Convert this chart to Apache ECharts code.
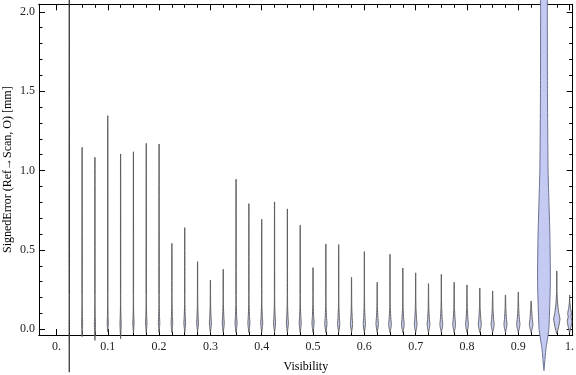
<!DOCTYPE html>
<html>
<head>
<meta charset="utf-8">
<script src="https://cdn.jsdelivr.net/npm/echarts@6/dist/echarts.min.js"></script>
<style>
  html, body { margin: 0; padding: 0; background: #fff; }
  #chart { width: 576px; height: 375px; }
</style>
</head>
<body>
<div id="chart"></div>
<script>
// violin plot: SignedError vs Visibility (one violin per 0.025 step)
const visibility = [
  0.025, 0.05, 0.075, 0.1, 0.125, 0.15, 0.175, 0.2, 0.225, 0.25,
  0.275, 0.3, 0.325, 0.35, 0.375, 0.4, 0.425, 0.45, 0.475, 0.5,
  0.525, 0.55, 0.575, 0.6, 0.625, 0.65, 0.675, 0.7, 0.725, 0.75,
  0.775, 0.8, 0.825, 0.85, 0.875, 0.9, 0.925, 0.95, 0.975, 1.0,
];
// max / min of each distribution (mm)
const errMax = [
  2.35, 1.146, 1.083, 1.345, 1.104, 1.118, 1.171, 1.167, 0.541, 0.64,
  0.426, 0.31, 0.378, 0.945, 0.791, 0.693, 0.802, 0.758, 0.655, 0.388,
  0.537, 0.533, 0.327, 0.489, 0.296, 0.472, 0.386, 0.355, 0.287, 0.346,
  0.296, 0.279, 0.26, 0.241, 0.216, 0.235, 0.178, 2.35, 0.367, 0.216,
];
const errMin = [
  -0.27, -0.046, -0.07, -0.015, -0.06, -0.023, -0.02, -0.02, -0.02, -0.02,
  -0.015, -0.02, -0.02, -0.02, -0.02, -0.02, -0.02, -0.02, -0.02, -0.02,
  -0.02, -0.02, -0.02, -0.02, -0.02, -0.02, -0.02, -0.02, -0.02, -0.02,
  -0.02, -0.02, -0.02, -0.02, -0.02, -0.02, -0.02, -0.26, -0.03, -0.02,
];
// mode of each distribution and its density (half width, in visibility units)
const errMode = [
  0.04, 0.04, 0.04, 0.04, 0.04, 0.04, 0.04, 0.04, 0.04, 0.04,
  0.04, 0.04, 0.04, 0.04, 0.04, 0.04, 0.04, 0.04, 0.04, 0.04,
  0.035, 0.035, 0.035, 0.035, 0.035, 0.03, 0.03, 0.03, 0.03, 0.03,
  0.03, 0.03, 0.03, 0.03, 0.03, 0.03, 0.03, 0.3, 0.065, 0.05,
];
const modeDensity = [
  0.0005, 0.0011, 0.0011, 0.0011, 0.0012, 0.0012, 0.0014, 0.0014, 0.0016, 0.0017,
  0.0018, 0.002, 0.002, 0.002, 0.002, 0.002, 0.002, 0.002, 0.002, 0.0021,
  0.0022, 0.0022, 0.0022, 0.0022, 0.0024, 0.0027, 0.0027, 0.0027, 0.0027, 0.0028,
  0.0028, 0.0028, 0.003, 0.003, 0.003, 0.0032, 0.0035, 0.0, 0.0062, 0.0045,
];
// the two irregular distributions, [error, half width]
const wideProfile = [
  [-0.26, 0], [-0.12, 0.004], [0.0, 0.0095], [0.3, 0.0125], [0.6, 0.0115],
  [1.0, 0.008], [1.5, 0.0068], [2.0, 0.0065], [2.35, 0.006],
];
const lastProfile = [
  [-0.02, 0], [0.02, 0.003], [0.05, 0.0045], [0.08, 0.0028], [0.1, 0.0038],
  [0.13, 0.002], [0.17, 0.0005], [0.216, 0],
];

const xTicksMajor = [0, 0.1, 0.2, 0.3, 0.4, 0.5, 0.6, 0.7, 0.8, 0.9, 1.0];
const xTicksMinor = [
  0.025, 0.05, 0.075, 0.125, 0.15, 0.175, 0.225, 0.25, 0.275, 0.325, 0.35, 0.375,
  0.425, 0.45, 0.475, 0.525, 0.55, 0.575, 0.625, 0.65, 0.675, 0.725, 0.75, 0.775,
  0.825, 0.85, 0.875, 0.925, 0.95, 0.975,
];
const yTicksMajor = [0, 0.5, 1.0, 1.5, 2.0];
const yTicksMinor = [
  0.1, 0.2, 0.3, 0.4, 0.6, 0.7, 0.8, 0.9, 1.1, 1.2, 1.3, 1.4, 1.6, 1.7, 1.8, 1.9,
];

const X_MIN = -0.034, X_MAX = 1.006;
const Y_MIN = -0.036, Y_MAX = 2.047;
const FONT = "'Liberation Serif', 'DejaVu Serif', serif";

function profileOf(i) {
  if (visibility[i] === 0.95) return wideProfile;
  if (visibility[i] === 1.0) return lastProfile;
  const lo = errMin[i], hi = errMax[i], m = errMode[i], b = modeDensity[i];
  const neck = 0.0003;
  const knots = [
    [lo, 0],
    [lo + (m - lo) * 0.5, b * 0.6],
    [m, b],
    [m + 0.04, b * 0.6],
    [m + 0.1, b * 0.25],
    [m + 0.18, neck],
  ].filter((k) => k[0] < hi);
  knots.push([hi, 0.0002]);
  return knots;
}

function xAxisOf(position, ticks, len, labels) {
  return {
    type: "value",
    position,
    min: X_MIN,
    max: X_MAX,
    name: labels ? "Visibility" : "",
    nameLocation: "middle",
    nameGap: 26,
    nameMoveOverlap: false,
    nameTextStyle: { fontFamily: FONT, fontSize: 12, color: "#000" },
    axisLine: { show: true, onZero: false, lineStyle: { color: "#000", width: 1 } },
    axisTick: { show: true, inside: true, length: len, customValues: ticks, lineStyle: { color: "#000" } },
    axisLabel: {
      show: labels,
      customValues: ticks,
      margin: 6,
      fontFamily: FONT,
      fontSize: 12,
      color: "#222",
      formatter: (v) => (v === 0 ? "0." : v === 1 ? "1." : v.toFixed(1)),
    },
    splitLine: { show: false },
  };
}

function yAxisOf(position, ticks, len, labels) {
  return {
    type: "value",
    position,
    min: Y_MIN,
    max: Y_MAX,
    name: labels ? "SignedError (Ref\u2192Scan, O) [mm]" : "",
    nameLocation: "middle",
    nameGap: 25,
    nameMoveOverlap: false,
    nameTextStyle: { fontFamily: FONT, fontSize: 12, color: "#000" },
    axisLine: { show: true, onZero: false, lineStyle: { color: "#000", width: 1 } },
    axisTick: { show: true, inside: true, length: len, customValues: ticks, lineStyle: { color: "#000" } },
    axisLabel: {
      show: labels,
      customValues: ticks,
      margin: 4,
      fontFamily: FONT,
      fontSize: 12,
      color: "#222",
      formatter: (v) => v.toFixed(1),
    },
    splitLine: { show: false },
  };
}

const chart = echarts.init(document.getElementById("chart"), null, { renderer: "canvas" });

chart.setOption({
  animation: false,
  grid: { left: 39, right: 3.3, top: 4.3, bottom: 40, outerBoundsMode: "none", containLabel: false },
  xAxis: [
    xAxisOf("bottom", xTicksMajor, 6, true),
    xAxisOf("bottom", xTicksMinor, 3.5, false),
    xAxisOf("top", xTicksMajor, 6, false),
    xAxisOf("top", xTicksMinor, 3.5, false),
  ],
  yAxis: [
    yAxisOf("left", yTicksMajor, 6, true),
    yAxisOf("left", yTicksMinor, 3.5, false),
    yAxisOf("right", yTicksMajor, 6, false),
    yAxisOf("right", yTicksMinor, 3.5, false),
  ],
  series: [
    {
      type: "custom",
      xAxisIndex: 0,
      yAxisIndex: 0,
      clip: false,
      data: visibility.map((v, i) => [v, i]),
      encode: { x: 0, y: -1 },
      renderItem(params, api) {
        const x = api.value(0);
        const i = api.value(1);
        const prof = profileOf(i);
        const left = prof.map(([y, w]) => api.coord([x - w, y]));
        const right = prof.map(([y, w]) => api.coord([x + w, y])).reverse();
        const wide = visibility[i] === 0.95;
        const first = i === 0;
        return {
          type: "polygon",
          shape: { points: left.concat(right), smooth: 0.15 },
          style: {
            fill: "#c5caf2",
            stroke: wide ? "#6a7090" : first ? "#333" : "#5a5a5a",
            lineWidth: wide ? 1 : 0.9,
          },
        };
      },
    },
  ],
});
</script>
</body>
</html>
